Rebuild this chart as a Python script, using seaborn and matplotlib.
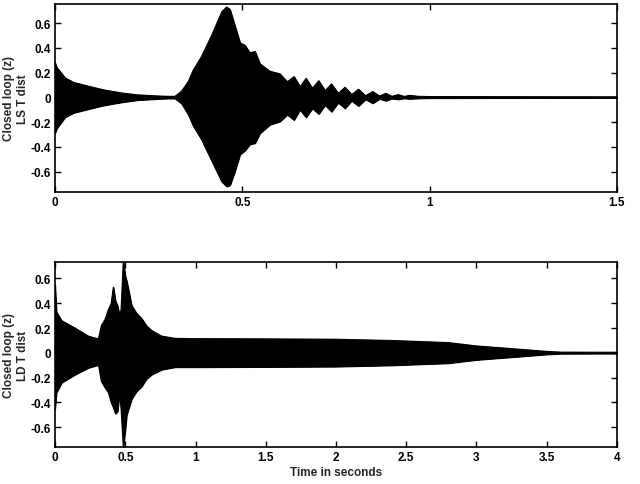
import numpy as np
import pandas as pd
import matplotlib
matplotlib.use("Agg")
import matplotlib.pyplot as plt
import seaborn as sns

# ---- envelope of the LS T disturbance response ----
ls_time = [0.0, 0.005, 0.027, 0.05, 0.089, 0.13, 0.178, 0.22, 0.267, 0.30, 0.32,
           0.338, 0.356, 0.369, 0.391, 0.418, 0.445, 0.458, 0.467, 0.48, 0.494,
           0.507, 0.52, 0.534, 0.547, 0.574, 0.60, 0.62,
           0.638, 0.654, 0.670, 0.687, 0.704, 0.721, 0.738, 0.756, 0.774, 0.792,
           0.810, 0.829, 0.848, 0.866, 0.883, 0.899, 0.916, 0.932, 0.947, 0.97,
           1.0, 1.5]
ls_upper = [0.28, 0.24, 0.157, 0.12, 0.09, 0.06, 0.035, 0.02, 0.012, 0.008, 0.008,
            0.05, 0.13, 0.22, 0.33, 0.50, 0.69, 0.73, 0.71, 0.58, 0.44,
            0.42, 0.36, 0.37, 0.27, 0.21, 0.19, 0.126,
            0.167, 0.086, 0.153, 0.073, 0.134, 0.054, 0.108, 0.032, 0.081, 0.022,
            0.065, 0.013, 0.046, 0.011, 0.032, 0.008, 0.022, 0.007, 0.016, 0.008,
            0.006, 0.004]
ls_lower = [-0.29, -0.25, -0.16, -0.125, -0.095, -0.065, -0.04, -0.022, -0.014, -0.009, -0.009,
            -0.05, -0.14, -0.23, -0.34, -0.51, -0.68, -0.72, -0.71, -0.60, -0.46,
            -0.43, -0.38, -0.37, -0.29, -0.22, -0.196, -0.14,
            -0.183, -0.10, -0.161, -0.089, -0.134, -0.062, -0.116, -0.043, -0.089, -0.027,
            -0.07, -0.016, -0.048, -0.012, -0.027, -0.01, -0.016, -0.008, -0.012, -0.008,
            -0.006, -0.004]

# ---- envelope of the LD T disturbance response ----
ld_time = [0.0, 0.01, 0.047, 0.142, 0.237, 0.30, 0.31, 0.33, 0.356, 0.38, 0.40,
           0.415, 0.43, 0.445, 0.46, 0.47, 0.486, 0.50, 0.51, 0.546, 0.58, 0.617, 0.65,
           0.688, 0.759, 0.854, 1.0, 1.5, 2.0, 2.4, 2.8, 3.0, 3.3, 3.5, 3.6, 4.0]
ld_upper = [0.55, 0.33, 0.26, 0.20, 0.135, 0.115, 0.12, 0.22, 0.27, 0.35, 0.40,
            0.53, 0.42, 0.38, 0.30, 0.35, 0.74, 0.62, 0.58, 0.38, 0.32, 0.276, 0.22,
            0.18, 0.135, 0.117, 0.115, 0.113, 0.11, 0.10, 0.083, 0.056, 0.03, 0.012, 0.006, 0.005]
ld_lower = [-0.45, -0.32, -0.24, -0.175, -0.12, -0.10, -0.10, -0.23, -0.28, -0.32, -0.40,
            -0.44, -0.49, -0.47, -0.32, -0.45, -0.76, -0.62, -0.50, -0.37, -0.31, -0.27, -0.21,
            -0.175, -0.135, -0.115, -0.115, -0.113, -0.11, -0.10, -0.083, -0.056, -0.03, -0.012,
            -0.006, -0.005]

y_ticks = [-0.6, -0.4, -0.2, 0, 0.2, 0.4, 0.6]
y_ticklabels = ["-0.6", "-0.4", "-0.2", "0", "0.2", "0.4", "0.6"]
ls_xticks = [0, 0.5, 1, 1.5]
ls_xticklabels = ["0", "0.5", "1", "1.5"]
ld_xticks = [0, 0.5, 1, 1.5, 2, 2.5, 3, 3.5, 4]
ld_xticklabels = ["0", "0.5", "1", "1.5", "2", "2.5", "3", "3.5", "4"]

sns.set_theme(style="ticks")
plt.rcParams["font.family"] = ["Liberation Sans", "DejaVu Sans"]
plt.rcParams["font.weight"] = "bold"
plt.rcParams["axes.linewidth"] = 1.2

fig = plt.figure(figsize=(6.4, 4.85), dpi=100)
ax1 = fig.add_axes([0.086, 0.602, 0.878, 0.388])
ax2 = fig.add_axes([0.086, 0.076, 0.878, 0.381])


def draw_env(ax, t, up, lo):
    df = pd.DataFrame({"t": t, "up": up, "lo": lo})
    ax.fill_between(df["t"], df["lo"], df["up"], color="black", linewidth=0.8,
                    edgecolor="black")
    sns.lineplot(data=df, x="t", y="up", ax=ax, color="black", linewidth=0.8)
    sns.lineplot(data=df, x="t", y="lo", ax=ax, color="black", linewidth=0.8)


def style_axes(ax, xlim, ylim, xticks, xlabels, second_line):
    ax.set_xlim(*xlim)
    ax.set_ylim(*ylim)
    ax.set_xticks(xticks)
    ax.set_xticklabels(xlabels, fontsize=8.5, fontweight="bold")
    ax.set_yticks(y_ticks)
    ax.set_yticklabels(y_ticklabels, fontsize=8.5, fontweight="bold")
    ax.tick_params(direction="in", top=True, right=True, length=4, width=1,
                   pad=3, colors="black")
    for s in ax.spines.values():
        s.set_visible(True)
        s.set_color("black")
    ax.set_xlabel("")
    ax.set_ylabel("Closed loop (z)\n" + second_line, fontsize=8.5,
                  fontweight="bold", linespacing=1.15)
    ax.yaxis.set_label_coords(-0.047, 0.5)


draw_env(ax1, ls_time, ls_upper, ls_lower)
style_axes(ax1, (0, 1.5), (-0.765, 0.755), ls_xticks, ls_xticklabels, "LS T dist")

draw_env(ax2, ld_time, ld_upper, ld_lower)
style_axes(ax2, (0, 4), (-0.76, 0.73), ld_xticks, ld_xticklabels, "LD T dist")
ax2.set_xlabel("Time in seconds", fontsize=8.5, fontweight="bold", labelpad=2)

fig.savefig("out.png", dpi=100)
